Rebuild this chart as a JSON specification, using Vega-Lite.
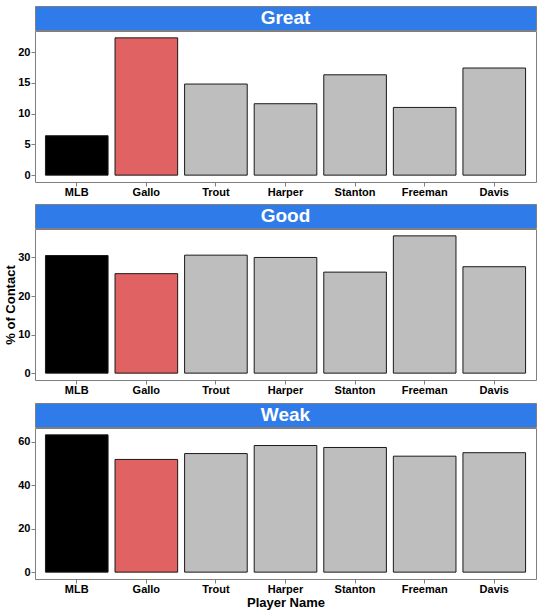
{
  "$schema": "https://vega.github.io/schema/vega-lite/v6.json",
  "padding": {"left": 4, "top": 5, "right": 5, "bottom": 5},
  "datasets": {
    "contact": [
      {"rating": "Great", "player": "MLB", "pct": 6.4},
      {"rating": "Great", "player": "Gallo", "pct": 22.3},
      {"rating": "Great", "player": "Trout", "pct": 14.8},
      {"rating": "Great", "player": "Harper", "pct": 11.6},
      {"rating": "Great", "player": "Stanton", "pct": 16.3},
      {"rating": "Great", "player": "Freeman", "pct": 11.0},
      {"rating": "Great", "player": "Davis", "pct": 17.4},
      {"rating": "Good", "player": "MLB", "pct": 30.5},
      {"rating": "Good", "player": "Gallo", "pct": 25.8},
      {"rating": "Good", "player": "Trout", "pct": 30.6},
      {"rating": "Good", "player": "Harper", "pct": 30.0},
      {"rating": "Good", "player": "Stanton", "pct": 26.2},
      {"rating": "Good", "player": "Freeman", "pct": 35.6},
      {"rating": "Good", "player": "Davis", "pct": 27.6},
      {"rating": "Weak", "player": "MLB", "pct": 63.1},
      {"rating": "Weak", "player": "Gallo", "pct": 51.8},
      {"rating": "Weak", "player": "Trout", "pct": 54.5},
      {"rating": "Weak", "player": "Harper", "pct": 58.2},
      {"rating": "Weak", "player": "Stanton", "pct": 57.3},
      {"rating": "Weak", "player": "Freeman", "pct": 53.3},
      {"rating": "Weak", "player": "Davis", "pct": 54.9}
    ],
    "headers": [
      {"rating": "Great"},
      {"rating": "Good"},
      {"rating": "Weak"}
    ]
  },
  "config": {
    "font": "Liberation Sans",
    "view": {"stroke": "#7f7f7f", "strokeWidth": 1},
    "axis": {
      "domain": false,
      "grid": false,
      "ticks": true,
      "tickColor": "#7f7f7f",
      "tickSize": 4,
      "labelColor": "black",
      "labelFont": "Liberation Sans",
      "labelFontSize": 11,
      "labelFontWeight": "bold",
      "labelPadding": 1,
      "titleColor": "black",
      "titleFont": "Liberation Sans",
      "titleFontSize": 13,
      "titleFontWeight": "bold"
    },
    "axisX": {"labelPadding": 0}
  },
  "spacing": -3,
  "vconcat": [
    {
      "width": 501,
      "height": 24,
      "view": {"fill": "#307bea", "stroke": "#7f7f7f"},
      "data": {"name": "headers"},
      "transform": [{"filter": "datum.rating == 'Great'"}],
      "mark": {"type": "text", "color": "white", "fontSize": 19, "fontWeight": "bold", "baseline": "middle", "align": "center"},
      "encoding": {"text": {"field": "rating"}}
    },
    {
      "width": 501,
      "height": 151,
      "data": {"name": "contact"},
      "transform": [{"filter": "datum.rating == 'Great'"}],
      "mark": {"type": "bar", "stroke": "#1a1a1a", "strokeWidth": 1},
      "encoding": {
        "x": {
          "field": "player", "type": "nominal",
          "sort": ["MLB", "Gallo", "Trout", "Harper", "Stanton", "Freeman", "Davis"],
          "scale": {"paddingInner": 0.1, "paddingOuter": 0.15},
          "axis": {"title": null, "labelAngle": 0, "minExtent": 21}
        },
        "y": {
          "field": "pct", "type": "quantitative",
          "scale": {"domain": [-1.115, 23.415], "nice": false, "zero": false},
          "axis": {"title": null, "values": [0, 5, 10, 15, 20]}
        },
        "color": {
          "field": "player", "type": "nominal", "legend": null,
          "scale": {
            "domain": ["MLB", "Gallo", "Trout", "Harper", "Stanton", "Freeman", "Davis"],
            "range": ["#000000", "#e06262", "#bebebe", "#bebebe", "#bebebe", "#bebebe", "#bebebe"]
          }
        }
      }
    },
    {
      "width": 501,
      "height": 24,
      "view": {"fill": "#307bea", "stroke": "#7f7f7f"},
      "data": {"name": "headers"},
      "transform": [{"filter": "datum.rating == 'Good'"}],
      "mark": {"type": "text", "color": "white", "fontSize": 19, "fontWeight": "bold", "baseline": "middle", "align": "center"},
      "encoding": {"text": {"field": "rating"}}
    },
    {
      "width": 501,
      "height": 151,
      "data": {"name": "contact"},
      "transform": [{"filter": "datum.rating == 'Good'"}],
      "mark": {"type": "bar", "stroke": "#1a1a1a", "strokeWidth": 1},
      "encoding": {
        "x": {
          "field": "player", "type": "nominal",
          "sort": ["MLB", "Gallo", "Trout", "Harper", "Stanton", "Freeman", "Davis"],
          "scale": {"paddingInner": 0.1, "paddingOuter": 0.15},
          "axis": {"title": null, "labelAngle": 0, "minExtent": 22}
        },
        "y": {
          "field": "pct", "type": "quantitative",
          "scale": {"domain": [-1.78, 37.38], "nice": false, "zero": false},
          "axis": {"title": "% of Contact", "values": [0, 10, 20, 30], "titlePadding": 0}
        },
        "color": {
          "field": "player", "type": "nominal", "legend": null,
          "scale": {
            "domain": ["MLB", "Gallo", "Trout", "Harper", "Stanton", "Freeman", "Davis"],
            "range": ["#000000", "#e06262", "#bebebe", "#bebebe", "#bebebe", "#bebebe", "#bebebe"]
          }
        }
      }
    },
    {
      "width": 501,
      "height": 24,
      "view": {"fill": "#307bea", "stroke": "#7f7f7f"},
      "data": {"name": "headers"},
      "transform": [{"filter": "datum.rating == 'Weak'"}],
      "mark": {"type": "text", "color": "white", "fontSize": 19, "fontWeight": "bold", "baseline": "middle", "align": "center"},
      "encoding": {"text": {"field": "rating"}}
    },
    {
      "width": 501,
      "height": 151,
      "data": {"name": "contact"},
      "transform": [{"filter": "datum.rating == 'Weak'"}],
      "mark": {"type": "bar", "stroke": "#1a1a1a", "strokeWidth": 1},
      "encoding": {
        "x": {
          "field": "player", "type": "nominal",
          "sort": ["MLB", "Gallo", "Trout", "Harper", "Stanton", "Freeman", "Davis"],
          "scale": {"paddingInner": 0.1, "paddingOuter": 0.15},
          "axis": {"title": "Player Name", "labelAngle": 0, "titlePadding": 2}
        },
        "y": {
          "field": "pct", "type": "quantitative",
          "scale": {"domain": [-3.155, 66.255], "nice": false, "zero": false},
          "axis": {"title": null, "values": [0, 20, 40, 60]}
        },
        "color": {
          "field": "player", "type": "nominal", "legend": null,
          "scale": {
            "domain": ["MLB", "Gallo", "Trout", "Harper", "Stanton", "Freeman", "Davis"],
            "range": ["#000000", "#e06262", "#bebebe", "#bebebe", "#bebebe", "#bebebe", "#bebebe"]
          }
        }
      }
    }
  ]
}
